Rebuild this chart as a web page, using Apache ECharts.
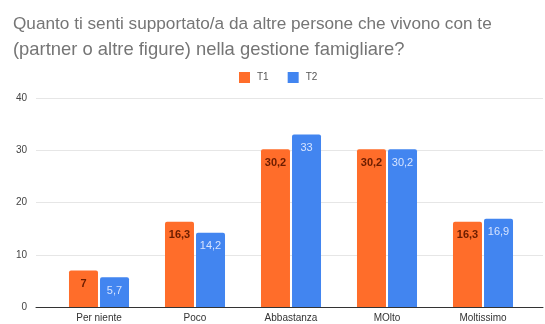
<!DOCTYPE html>
<html>
<head>
<meta charset="utf-8">
<script src="https://cdn.jsdelivr.net/npm/echarts@6/dist/echarts.min.js"></script>
<style>
  html, body { margin: 0; padding: 0; background: #fff; }
  #chart { width: 545px; height: 324px; }
</style>
</head>
<body>
<div id="chart"></div>
<script>
// Survey answers: how supported respondents feel at home, two waves
const categories = ['Per niente', 'Poco', 'Abbastanza', 'MOlto', 'Moltissimo'];
const t1Values = [7, 16.3, 30.2, 30.2, 16.3];
const t2Values = [5.7, 14.2, 33, 30.2, 16.9];
const seriesNames = ['T1', 'T2'];
const yTicks = [0, 10, 20, 30, 40];
const titleLines = [
  'Quanto ti senti supportato/a da altre persone che vivono con te',
  '(partner o altre figure) nella gestione famigliare?'
];

const fmt = p => String(p.value).replace('.', ',');
const FONT = 'Liberation Sans';

const chart = echarts.init(document.getElementById('chart'), null, { renderer: 'canvas' });

const yMin = yTicks[0], yMax = yTicks[yTicks.length - 1], yStep = yTicks[1] - yTicks[0];

chart.setOption({
  animation: false,
  title: {
    text: '{a|' + titleLines[0] + '}\n{b|' + titleLines[1] + '}',
    left: 8,
    top: 6,
    textStyle: {
      fontFamily: FONT,
      fontWeight: 'normal',
      color: '#757575',
      rich: {
        a: { fontFamily: FONT, fontSize: 17.2, color: '#757575', lineHeight: 26 },
        b: { fontFamily: FONT, fontSize: 18.4, color: '#757575', lineHeight: 26 }
      }
    }
  },
  legend: {
    data: seriesNames,
    top: 67,
    left: 234,
    itemWidth: 11,
    itemHeight: 11,
    itemGap: 19,
    icon: 'rect',
    textStyle: { fontFamily: FONT, fontSize: 10, color: '#555', padding: [0, 0, 0, 2] }
  },
  grid: [
    // wide grid carrying the value axis and gridlines
    { left: 36, right: 2, top: 98, bottom: 17 },
    // inner grid holding the bars
    { left: 51, right: 14, top: 98, bottom: 17 }
  ],
  xAxis: [
    {
      gridIndex: 0, type: 'value', min: 0, max: 1,
      axisLine: { show: true, lineStyle: { color: '#333', width: 1 } },
      axisTick: { show: false }, axisLabel: { show: false }, splitLine: { show: false }
    },
    {
      gridIndex: 1, type: 'category', data: categories,
      axisLine: { show: false }, axisTick: { show: false },
      axisLabel: { fontFamily: FONT, fontSize: 10, color: '#333', margin: 6 }
    }
  ],
  yAxis: [
    {
      gridIndex: 0, type: 'value', min: yMin, max: yMax, interval: yStep,
      axisLine: { show: false }, axisTick: { show: false },
      axisLabel: { fontFamily: FONT, fontSize: 10, color: '#444', margin: 9 },
      splitLine: { lineStyle: { color: '#e6e6e6', width: 1 } }
    },
    {
      gridIndex: 1, type: 'value', min: yMin, max: yMax, interval: yStep,
      show: false, splitLine: { show: false }
    }
  ],
  series: [
    {
      name: seriesNames[0], type: 'bar', xAxisIndex: 1, yAxisIndex: 1,
      data: t1Values, barWidth: 29, barGap: '7%',
      itemStyle: { color: '#ff6d2a', borderRadius: [2, 2, 0, 0] },
      label: {
        show: true, position: 'insideTop', distance: 8, formatter: fmt,
        fontFamily: FONT, fontSize: 11, fontWeight: 'bold', color: '#6b1d00'
      }
    },
    {
      name: seriesNames[1], type: 'bar', xAxisIndex: 1, yAxisIndex: 1,
      data: t2Values, barWidth: 29,
      itemStyle: { color: '#4285f0', borderRadius: [2, 2, 0, 0] },
      label: {
        show: true, position: 'insideTop', distance: 8, formatter: fmt,
        fontFamily: FONT, fontSize: 11, color: '#d6e4ff'
      }
    }
  ]
});
</script>
</body>
</html>
